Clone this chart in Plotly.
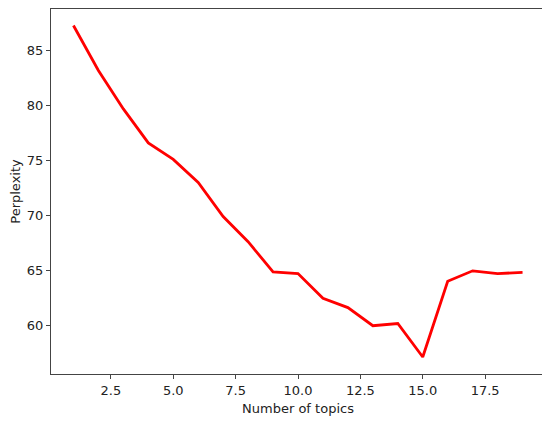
import plotly.graph_objects as go

# number of topics vs perplexity
topics = list(range(1, 20))
perplexity = [87.3, 83.2, 79.7, 76.6, 75.1, 73.0, 69.9, 67.6, 64.85, 64.7,
              62.45, 61.6, 59.95, 60.15, 57.1, 64.0, 64.95, 64.7, 64.8]

xticks = [2.5, 5.0, 7.5, 10.0, 12.5, 15.0, 17.5]
yticks = [60, 65, 70, 75, 80, 85]

fig = go.Figure()
fig.add_trace(go.Scatter(x=topics, y=perplexity, mode='lines',
                         line=dict(color='#ff0000', width=2.8),
                         showlegend=False))

axis_style = dict(showline=True, linecolor='#444', linewidth=1.2, mirror=True,
                  ticks='outside', ticklen=4, tickcolor='#444', tickwidth=1,
                  showgrid=False, zeroline=False, automargin=False,
                  title_font=dict(size=13))

fig.update_xaxes(title_text="Number of topics", range=[0.1, 19.9],
                 tickvals=xticks, ticktext=[f"{v:.1f}" for v in xticks],
                 title_standoff=7, **axis_style)
fig.update_yaxes(title_text="Perplexity", range=[55.55, 88.8],
                 tickvals=yticks, title_standoff=9, **axis_style)

# page body adds an 8px margin, so the figure is kept 8px smaller
fig.update_layout(
    width=542, height=414,
    margin=dict(l=43, r=5, t=1, b=48),
    plot_bgcolor='white', paper_bgcolor='white',
    font=dict(family="DejaVu Sans", size=13, color='#222'))

fig.write_html("out.html")
